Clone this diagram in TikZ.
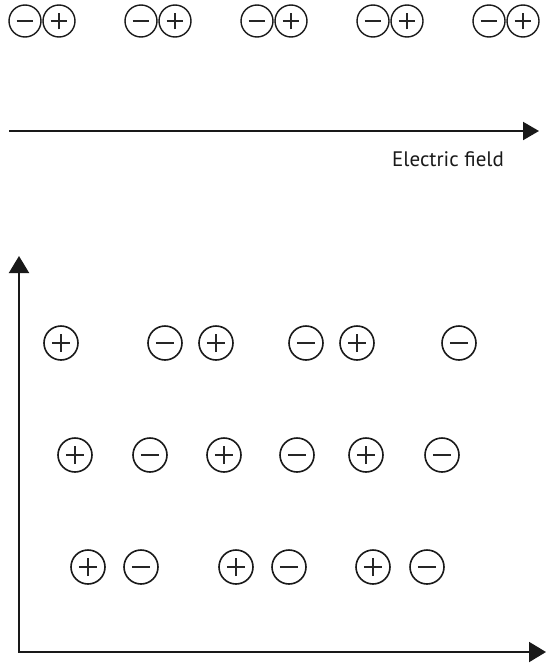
\documentclass[tikz,border=0pt]{standalone}
\usepackage{fontspec}
\setmainfont{PT Sans}
\usetikzlibrary{arrows.meta}
\tikzset{
  chg/.style={circle, draw=black!90, inner sep=0pt, outer sep=0pt},
  big/.style={chg, minimum size=34pt, line width=1.6pt},
  small/.style={chg, minimum size=32pt, line width=1.4pt},
  minussign/.style={path picture={
    \draw[line width=1.7pt, black!85]
      ([xshift=-#1]path picture bounding box.center) --
      ([xshift=#1]path picture bounding box.center);}},
  plussign/.style={path picture={
    \draw[line width=1.7pt, black!85]
      ([xshift=-#1]path picture bounding box.center) --
      ([xshift=#1]path picture bounding box.center)
      ([yshift=-#1]path picture bounding box.center) --
      ([yshift=#1]path picture bounding box.center);}},
  bm/.style={big, minussign=9.2pt},
  bp/.style={big, plussign=9.2pt},
  sm/.style={small, minussign=8.3pt},
  sp/.style={small, plussign=8.3pt},
  axisline/.style={line width=2pt, black!90, -{Triangle[length=16pt,width=18pt]}},
  axesline/.style={line width=2pt, black!90, {Triangle[length=17pt,width=20pt]}-{Triangle[length=17pt,width=20pt]}},
}
\begin{document}
\begin{tikzpicture}[x=1pt,y=-1pt]
\useasboundingbox (0,0) rectangle (547,664);
% top dipoles
\foreach \i/\x in {1/25,2/141,3/257,4/373,5/489}{
  \node[sm] (tm\i) at (\x,21) {};
  \node[sp] (tp\i) at ({\x+34},21) {};
}
% electric field arrow
\coordinate (ef0) at (9,131);
\coordinate (ef1) at (539,131);
\draw[axisline] (ef0) -- (ef1);
\node[anchor=base, font=\fontsize{21pt}{24pt}\selectfont, text=black!90, inner sep=0pt] (eflabel) at (448,166) {Electric field};
% axes
\coordinate (O) at (19,652);
\coordinate (ytip) at (19,256);
\coordinate (xtip) at (546,652);
\draw[axesline] (ytip) -- (O) -- (xtip);
% row 1
\node[bp] (a1) at (61,343) {};
\node[bm] (a2) at (165,343) {};
\node[bp] (a3) at (216,343) {};
\node[bm] (a4) at (306,343) {};
\node[bp] (a5) at (357,343) {};
\node[bm] (a6) at (459,343) {};
% row 2
\node[bp] (b1) at (75,455) {};
\node[bm] (b2) at (150,455) {};
\node[bp] (b3) at (224,455) {};
\node[bm] (b4) at (297,455) {};
\node[bp] (b5) at (366,455) {};
\node[bm] (b6) at (442,455) {};
% row 3
\node[bp] (c1) at (88,567) {};
\node[bm] (c2) at (141,567) {};
\node[bp] (c3) at (236,567) {};
\node[bm] (c4) at (289,567) {};
\node[bp] (c5) at (373,567) {};
\node[bm] (c6) at (427,567) {};
\end{tikzpicture}
\end{document}
